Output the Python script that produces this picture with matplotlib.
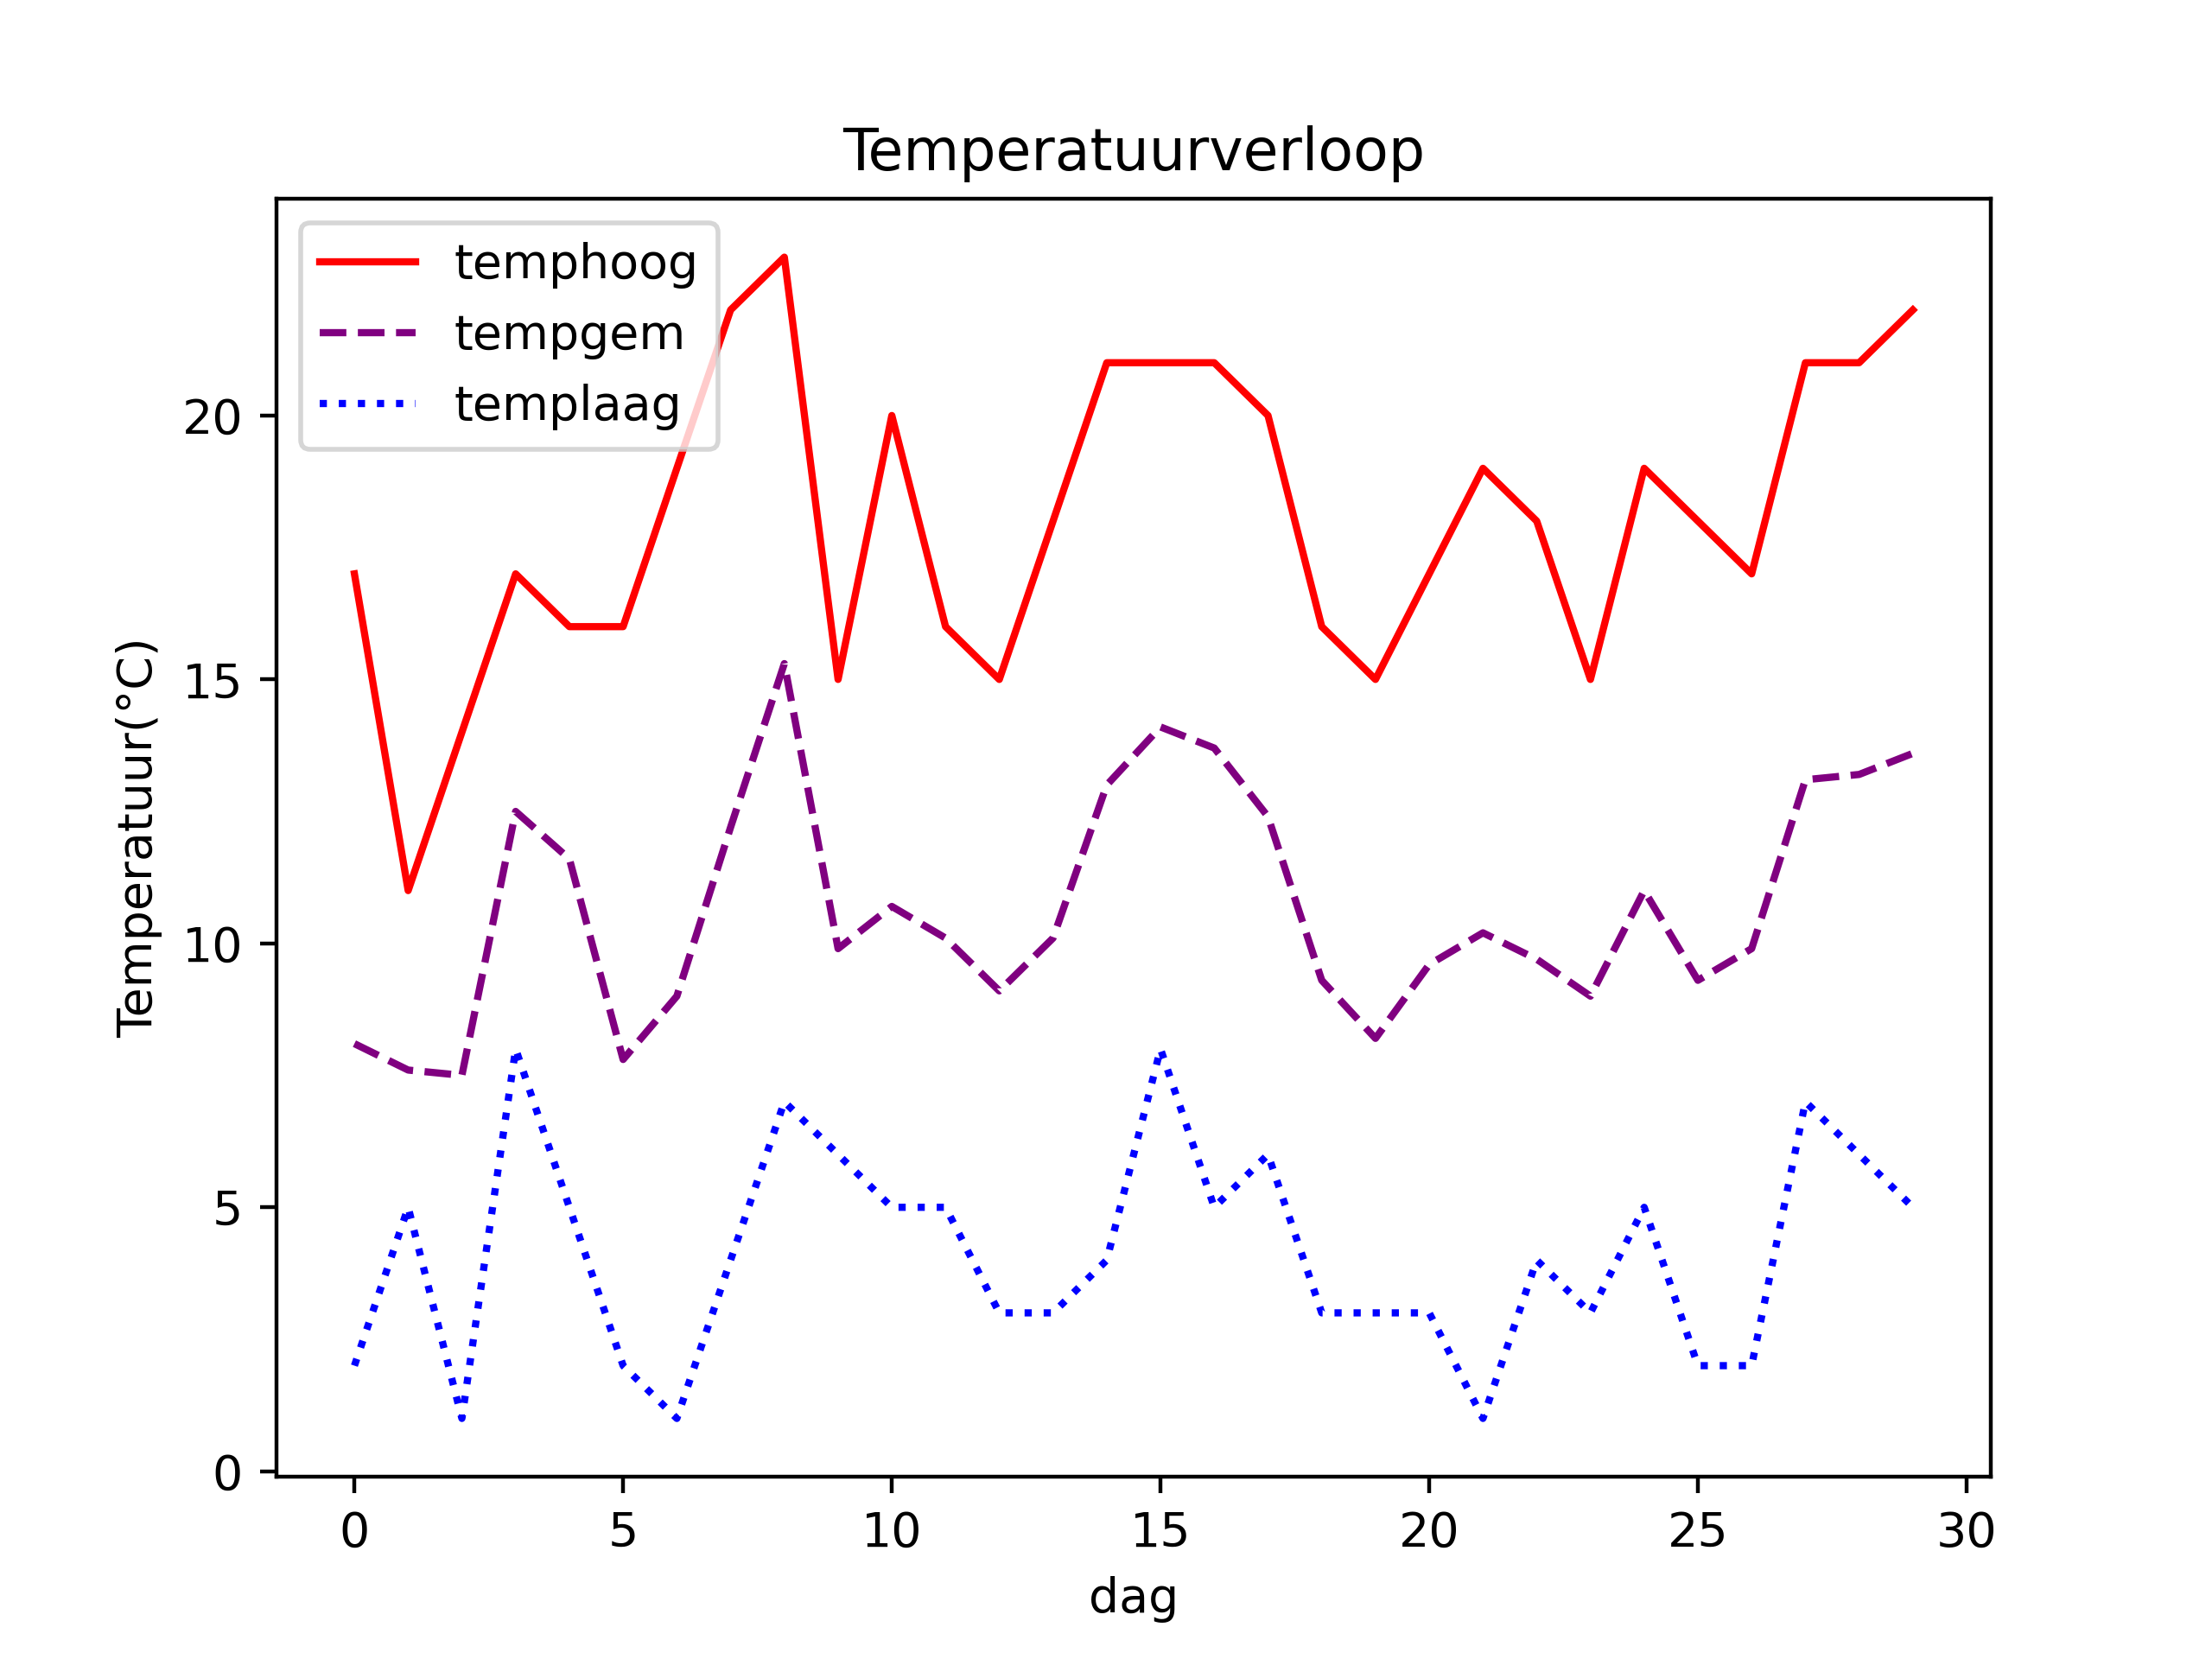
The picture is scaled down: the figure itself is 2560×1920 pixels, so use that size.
import matplotlib
matplotlib.use('Agg')
import matplotlib.pyplot as plt

dagen = list(range(30))
temphoog = [17, 11, 14, 17, 16, 16, 19, 22, 23, 15, 20, 16, 15, 18, 21,
            21, 21, 20, 16, 15, 17, 19, 18, 15, 19, 18, 17, 21, 21, 22]
tempgem = [8.1, 7.6, 7.5, 12.5, 11.6, 7.8, 9.0, 12.2, 15.3, 9.9, 10.7, 10.1, 9.1, 10.1, 13.0,
           14.1, 13.7, 12.4, 9.3, 8.2, 9.6, 10.2, 9.7, 9.0, 11.0, 9.3, 9.9, 13.1, 13.2, 13.6]
templaag = [2, 5, 1, 8, 5, 2, 1, 4, 7, 6, 5, 5, 3, 3, 4,
            8, 5, 6, 3, 3, 3, 1, 4, 3, 5, 2, 2, 7, 6, 5]

plt.figure(figsize=(6.4, 4.8), dpi=400)
plt.plot(dagen, temphoog, color='red', linestyle='-', label='temphoog')
plt.plot(dagen, tempgem, color='purple', linestyle='--', label='tempgem')
plt.plot(dagen, templaag, color='blue', linestyle=':', label='templaag')
plt.title('Temperatuurverloop')
plt.xlabel('dag')
plt.ylabel('Temperatuur(°C)')
plt.legend(loc='upper left')
plt.savefig('out.png', dpi=400)
